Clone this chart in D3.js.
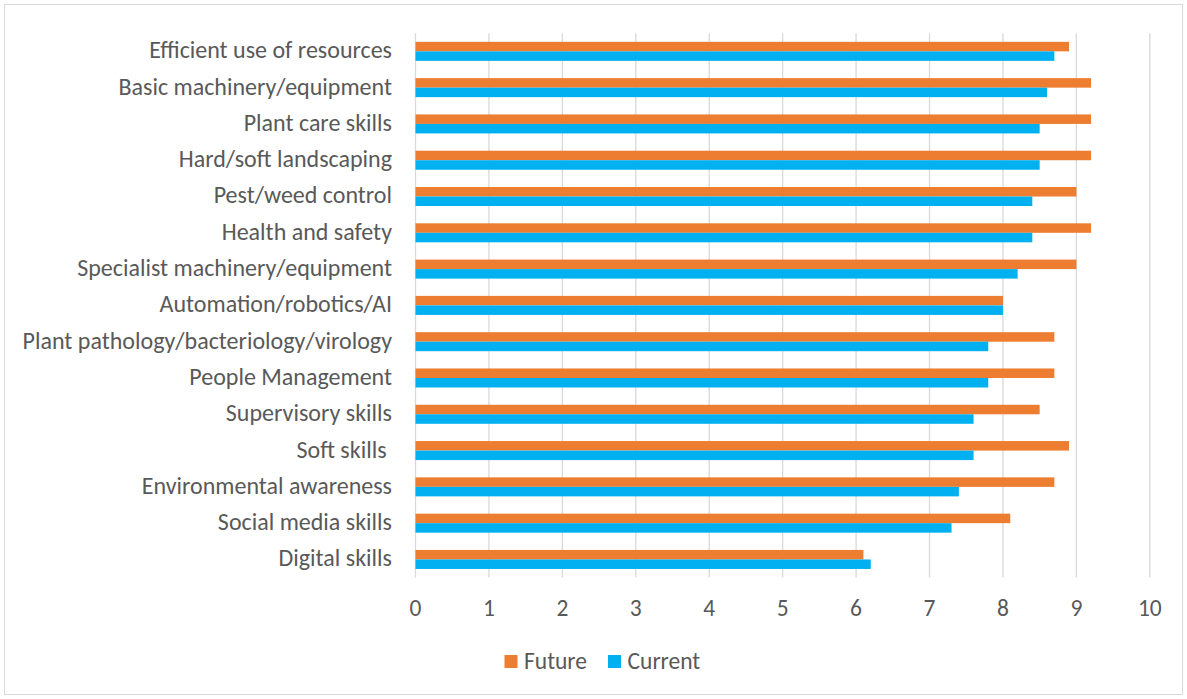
<!DOCTYPE html>
<html>
<head>
  <meta charset="utf-8">
  <script src="https://d3js.org/d3.v7.min.js"></script>
  <style>
    body { margin: 0; background: #fff; }
    svg { display: block; font-family: Carlito, "Open Sans", "Liberation Sans", sans-serif; }
    .cat text { white-space: pre; }
  </style>
</head>
<body>
  <div id="chart"></div>

  <script>
    // categories, top to bottom
    const categories = [
      "Efficient use of resources",
      "Basic machinery/equipment",
      "Plant care skills",
      "Hard/soft landscaping",
      "Pest/weed control",
      "Health and safety",
      "Specialist machinery/equipment",
      "Automation/robotics/AI",
      "Plant pathology/bacteriology/virology",
      "People Management",
      "Supervisory skills",
      "Soft skills ",
      "Environmental awareness",
      "Social media skills",
      "Digital skills"
    ];
    const future  = [8.9, 9.2, 9.2, 9.2, 9.0, 9.2, 9.0, 8.0, 8.7, 8.7, 8.5, 8.9, 8.7, 8.1, 6.1];
    const current = [8.7, 8.6, 8.5, 8.5, 8.4, 8.4, 8.2, 8.0, 7.8, 7.8, 7.6, 7.6, 7.4, 7.3, 6.2];
    const xTicks = [0, 1, 2, 3, 4, 5, 6, 7, 8, 9, 10];
    const seriesNames = ["Future", "Current"];
    const colors = { Future: "#ED7D31", Current: "#00B0F0" };

    const W = 1187, H = 699;
    const plotLeft = 415.5, plotRight = 1149.8, plotTop = 33.2, plotBottom = 577.6;

    const svg = d3.select("#chart").append("svg")
      .attr("width", W).attr("height", H);

    // chart border
    svg.append("rect")
      .attr("x", 4.5).attr("y", 4.5)
      .attr("width", W - 9).attr("height", H - 9)
      .attr("fill", "#fff").attr("stroke", "#d9d9d9");

    const x = d3.scaleLinear().domain([0, 10]).range([plotLeft, plotRight]);
    const y = d3.scaleBand().domain(categories).range([plotTop, plotBottom]).paddingInner(0.476).paddingOuter(0.238);
    const ySub = d3.scaleBand().domain(seriesNames).range([0, y.bandwidth()]);

    // gridlines
    svg.append("g").selectAll("line")
      .data(xTicks)
      .join("line")
      .attr("x1", d => x(d)).attr("x2", d => x(d))
      .attr("y1", plotTop).attr("y2", plotBottom)
      .attr("stroke", "#d9d9d9").attr("stroke-width", 1.3);

    // bars
    const rows = categories.map((c, i) => ({ cat: c, Future: future[i], Current: current[i] }));
    svg.append("g").selectAll("g")
      .data(rows)
      .join("g")
      .attr("transform", d => `translate(0,${y(d.cat)})`)
      .selectAll("rect")
      .data(d => seriesNames.map(s => ({ s, v: d[s] })))
      .join("rect")
      .attr("x", x(0))
      .attr("y", d => ySub(d.s))
      .attr("width", d => x(d.v) - x(0))
      .attr("height", ySub.bandwidth())
      .attr("fill", d => colors[d.s]);

    // category labels
    svg.append("g").attr("class", "cat").selectAll("text")
      .data(categories)
      .join("text")
      .attr("x", 392)
      .attr("y", d => y(d) + y.bandwidth() / 2)
      .attr("dy", "0.29em")
      .attr("text-anchor", "end")
      .attr("fill", "#595959")
      .style("font-size", "24px")
      .text(d => d);

    // x axis tick labels
    svg.append("g").selectAll("text")
      .data(xTicks)
      .join("text")
      .attr("x", d => x(d))
      .attr("y", 609)
      .attr("dy", "0.31em")
      .attr("text-anchor", "middle")
      .attr("fill", "#595959")
      .style("font-size", "23.5px")
      .text(d => d);

    // legend
    const legend = svg.append("g");
    const legendX = [504.5, 608];
    seriesNames.forEach((s, i) => {
      legend.append("rect")
        .attr("x", legendX[i]).attr("y", 655)
        .attr("width", 13).attr("height", 13)
        .attr("fill", colors[s]);
      legend.append("text")
        .attr("x", legendX[i] + 19.5).attr("y", 662)
        .attr("dy", "0.3em")
        .attr("fill", "#595959")
        .style("font-size", "23.5px")
        .text(s);
    });
  </script>
</body>
</html>
